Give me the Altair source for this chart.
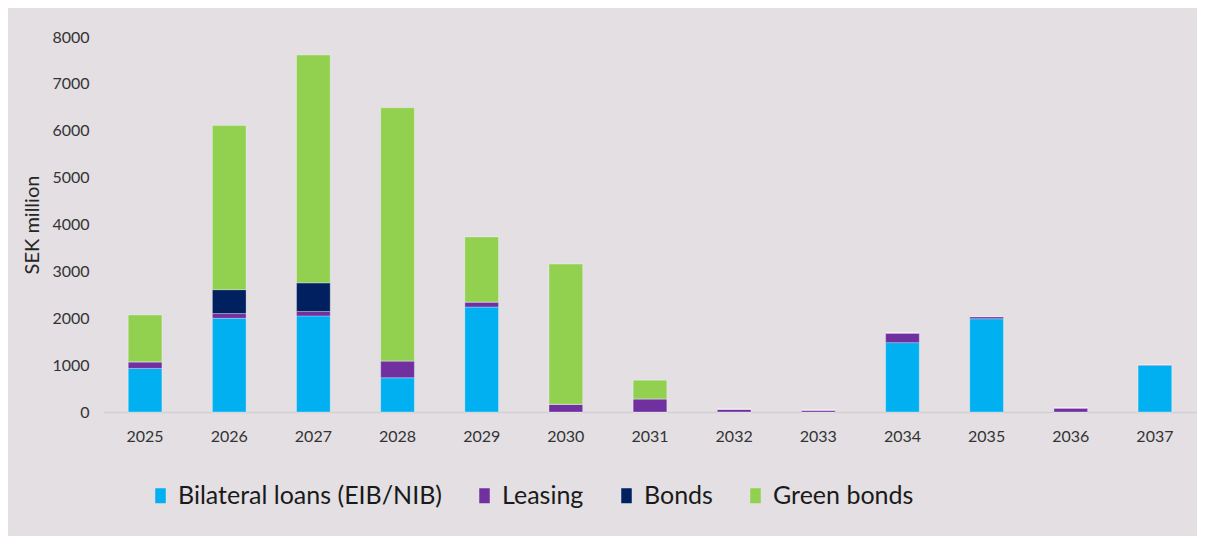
import altair as alt
import pandas as pd

years = ["2025", "2026", "2027", "2028", "2029", "2030", "2031",
         "2032", "2033", "2034", "2035", "2036", "2037"]
series = ["Bilateral loans (EIB/NIB)", "Leasing", "Bonds", "Green bonds"]
bilateral = [930, 2000, 2050, 730, 2240, 0, 0, 0, 0, 1480, 1990, 0, 995]
leasing = [140, 100, 95, 360, 105, 165, 280, 60, 40, 205, 45, 85, 20]
bonds = [0, 510, 610, 0, 0, 0, 0, 0, 0, 0, 0, 0, 0]
green = [1000, 3500, 4860, 5400, 1390, 2990, 400, 0, 0, 0, 0, 0, 0]
colors = ["#00B0F0", "#7030A0", "#002060", "#92D050"]

rows = []
for s_i, (name, vals) in enumerate(zip(series, [bilateral, leasing, bonds, green])):
    for y, v in zip(years, vals):
        rows.append({"year": y, "series": name, "value": v, "order": s_i})
df = pd.DataFrame(rows)

chart = alt.Chart(df).mark_bar(
    stroke="#ffffff", strokeWidth=1, strokeOpacity=0.3
).encode(
    x=alt.X("year:N", sort=years,
            scale=alt.Scale(paddingInner=0.6, paddingOuter=0.3),
            axis=alt.Axis(title=None, labelAngle=0, ticks=False,
                          domainColor="#D3CFD3", domainWidth=1.5,
                          labelFontSize=16, labelColor="#333333",
                          labelPadding=16, labelFont="Lato")),
    y=alt.Y("value:Q", stack="zero",
            scale=alt.Scale(domain=[0, 8000], nice=False),
            axis=alt.Axis(title="SEK million", values=list(range(0, 8001, 1000)),
                          format="d",
                          grid=False, domain=False, ticks=False,
                          labelFontSize=16, labelColor="#333333", labelPadding=14,
                          labelFont="Lato",
                          titleFontSize=20, titleFontWeight="normal",
                          titleColor="#262626", titleFont="Lato",
                          titlePadding=9)),
    color=alt.Color("series:N", sort=series,
                    scale=alt.Scale(domain=series, range=colors),
                    legend=alt.Legend(title=None, orient="none",
                                      direction="horizontal",
                                      legendX=45, legendY=446,
                                      symbolType="M-0.7,-1H0.7V1H-0.7Z",
                                      symbolSize=225, symbolStrokeWidth=0,
                                      labelFontSize=25, labelFont="Lato",
                                      labelColor="#1a1a1a", labelOffset=5,
                                      labelLimit=0,
                                      columnPadding=30)),
    order=alt.Order("order:Q", sort="ascending"),
).properties(
    width=1094, height=375,
    autosize=alt.AutoSizeParams(type="none"),
    padding={"left": 95, "top": 29, "right": 0, "bottom": 124},
).configure(
    background="#E3DFE3",
).configure_view(stroke=None)

chart.save("out.html", embed_options={"renderer": "svg", "actions": False})
